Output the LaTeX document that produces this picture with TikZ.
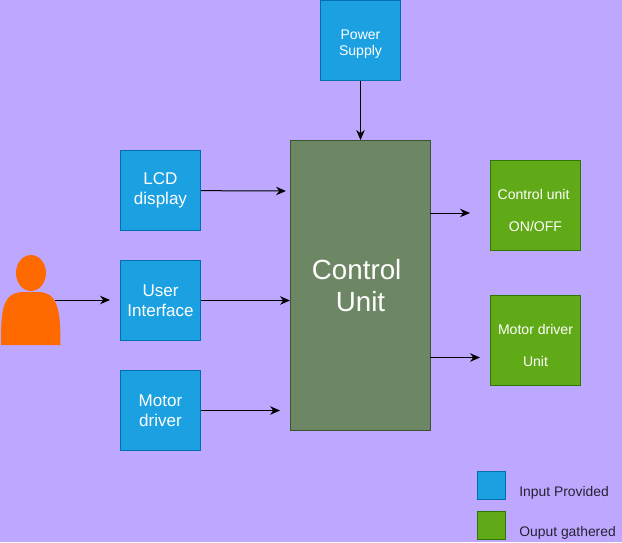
\documentclass[tikz,border=0pt]{standalone}
\usepackage{fontspec}
\setmainfont{Liberation Sans}
\usepackage{xcolor}
\usepackage{tikz}
\usetikzlibrary{arrows.meta, positioning}
\definecolor{bgviolet}{HTML}{BEA8FF}
\definecolor{inblue}{HTML}{1BA1E2}
\definecolor{inblueline}{HTML}{006EAF}
\definecolor{outgreen}{HTML}{60A917}
\definecolor{outgreenline}{HTML}{2D7600}
\definecolor{unitgreen}{HTML}{6D8764}
\definecolor{unitline}{HTML}{3A5431}
\definecolor{personorange}{HTML}{FF6A00}
\newcommand{\lowerline}[1]{\rule{0pt}{#1}}
\tikzset{
  inputbox/.style={draw=inblueline, fill=inblue, text=white, align=center, line width=0.57pt,
    minimum width=1.6cm, minimum height=1.6cm, inner sep=0pt, font=\fontsize{9.7}{11.3}\selectfont},
  outputbox/.style={draw=outgreenline, fill=outgreen, text=white, align=center, line width=0.57pt,
    minimum width=1.8cm, minimum height=1.8cm, inner sep=0pt, font=\fontsize{8}{18.7}\selectfont},
  legendbox/.style={minimum width=0.56cm, minimum height=0.56cm, inner sep=0pt, line width=0.57pt},
  legendtext/.style={text=black!80!bgviolet, inner sep=0pt, font=\fontsize{7.9}{9}\selectfont},
  link/.style={draw=black, line width=0.57pt, ->},
}
\begin{document}
\begin{tikzpicture}[x=0.02cm, y=-0.02cm, >={Stealth[length=2mm, width=1.7mm]}]
  \fill[bgviolet] (0,0) rectangle (622,542);
  \useasboundingbox (0,0) rectangle (622,542);

  % Person
  \fill[personorange] (31,273) ellipse [x radius=15, y radius=18];
  \fill[personorange] (1,345) .. controls (1,310) and (2,292) .. (24,292) -- (38,292)
    .. controls (58,292) and (60.5,310) .. (60.5,345) -- cycle;
  \coordinate (person) at (55,300);

  % Inputs
  \node[inputbox, font=\fontsize{8}{9}\selectfont] (power) at (360.5,40.5) {\lowerline{9.2pt}Power\\Supply};
  \node[inputbox] (lcd) at (160.5,190.5) {LCD\\display};
  \node[inputbox] (ui) at (160.5,300.5) {User\\Interface};
  \node[inputbox] (motor) at (160.5,410.5) {Motor\\driver};

  % Control unit
  \node[draw=unitline, fill=unitgreen, text=white, align=center, line width=0.57pt,
    minimum width=2.8cm, minimum height=5.8cm, inner sep=0pt,
    font=\fontsize{15.8}{18.1}\selectfont] (ctrl) at (360.5,285.5) {Control\ \null\\Unit};

  % Outputs
  \node[outputbox] (onoff) at (535.5,205.5) {\lowerline{11.5pt}Control unit\ \null\\ON/OFF};
  \node[outputbox] (driver) at (535.5,340.5) {\lowerline{11.5pt}Motor driver\\Unit};

  % Free ends
  \coordinate (lcdin) at (286,191);
  \coordinate (motorin) at (280,410.5);
  \coordinate (uiin) at (110,300);
  \coordinate (ctrltop) at (360.5,140);
  \coordinate (ctrlui) at (290,300.5);
  \coordinate (ctrlout1) at (430,213);
  \coordinate (ctrlout2) at (430,357.5);
  \coordinate (onoffin) at (470,213);
  \coordinate (driverin) at (480,357.5);

  \draw[link] (power) -- (ctrltop);
  \draw[link] (lcd) -- (lcdin);
  \draw[link] (person) -- (uiin);
  \draw[link] (ui) -- (ctrlui);
  \draw[link] (motor) -- (motorin);
  \draw[link] (ctrlout1) -- (onoffin);
  \draw[link] (ctrlout2) -- (driverin);

  % Legend
  \node[legendbox, draw=inblueline, fill=inblue] (legin) at (491,485) {};
  \node[legendbox, draw=outgreenline, fill=outgreen] (legout) at (491,525) {};
  \node[legendtext, anchor=west] (legintext) at (519,492.5) {Input Provided};
  \node[legendtext, anchor=west] (legouttext) at (519,532.5) {Ouput gathered};
\end{tikzpicture}
\end{document}
